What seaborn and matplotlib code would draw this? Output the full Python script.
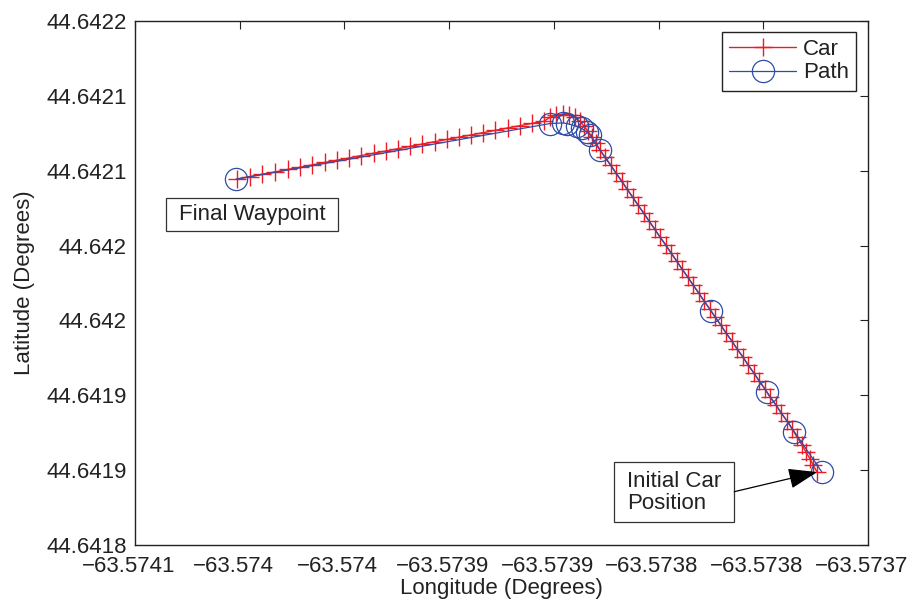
import pandas as pd
import seaborn as sns
import matplotlib.pyplot as plt
from matplotlib.patches import Rectangle
from matplotlib.transforms import ScaledTranslation

# Car trajectory (initial position first)
car_lon = [
    -63.5737543, -63.5737562, -63.5737576, -63.5737596, -63.5737615, -63.5737639,
    -63.5737662, -63.5737686, -63.5737715, -63.5737739, -63.5737768, -63.5737791,
    -63.5737820, -63.5737844, -63.5737873, -63.5737896, -63.5737925, -63.5737949,
    -63.5737978, -63.5738002, -63.5738030, -63.5738054, -63.5738083, -63.5738107,
    -63.5738135, -63.5738159, -63.5738188, -63.5738212, -63.5738240, -63.5738264,
    -63.5738293, -63.5738317, -63.5738345, -63.5738369, -63.5738398, -63.5738422,
    -63.5738450, -63.5738474, -63.5738503, -63.5738527, -63.5738556, -63.5738579,
    -63.5738599, -63.5738618, -63.5738637, -63.5738656, -63.5738675, -63.5738699,
    -63.5738727, -63.5738756, -63.5738790, -63.5738818,
    -63.5738847, -63.5738904, -63.5738961, -63.5739019, -63.5739081, -63.5739138,
    -63.5739195, -63.5739253, -63.5739310, -63.5739367, -63.5739429, -63.5739487,
    -63.5739544, -63.5739601, -63.5739659, -63.5739721, -63.5739778, -63.5739835,
    -63.5739893, -63.5739955, -63.5740012, -63.5740069, -63.5740131, -63.5740194,
    -63.5740251, -63.5740313,
]
car_lat = [
    44.6418787, 44.6418834, 44.6418874, 44.6418921, 44.6418968, 44.6419021,
    44.6419074, 44.6419128, 44.6419181, 44.6419235, 44.6419288, 44.6419341,
    44.6419395, 44.6419448, 44.6419502, 44.6419555, 44.6419608, 44.6419662,
    44.6419715, 44.6419769, 44.6419822, 44.6419875, 44.6419929, 44.6419982,
    44.6420036, 44.6420089, 44.6420142, 44.6420196, 44.6420249, 44.6420303,
    44.6420356, 44.6420409, 44.6420463, 44.6420516, 44.6420570, 44.6420623,
    44.6420676, 44.6420730, 44.6420783, 44.6420837, 44.6420890, 44.6420937,
    44.6420984, 44.6421024, 44.6421064, 44.6421097, 44.6421130, 44.6421157,
    44.6421171, 44.6421177, 44.6421171, 44.6421157,
    44.6421130, 44.6421116, 44.6421101, 44.6421086, 44.6421069, 44.6421054,
    44.6421039, 44.6421024, 44.6421009, 44.6420994, 44.6420978, 44.6420962,
    44.6420947, 44.6420932, 44.6420917, 44.6420901, 44.6420885, 44.6420870,
    44.6420855, 44.6420839, 44.6420823, 44.6420809, 44.6420792, 44.6420776,
    44.6420761, 44.6420745,
]

# Planned path waypoints
path_lon = [-63.5737521, -63.5737651, -63.5737783, -63.5738049, -63.5738579,
            -63.5738627, -63.5738643, -63.5738667, -63.5738690, -63.5738738,
            -63.5738756, -63.5738818, -63.5740318]
path_lat = [44.6418789, 44.6419056, 44.6419323, 44.6419862, 44.6420937,
            44.6421037, 44.6421059, 44.6421082, 44.6421097, 44.6421115,
            44.6421119, 44.6421115, 44.6420743]

x_ticks = [-63.57408, -63.57403, -63.57398, -63.57393, -63.57388, -63.57383, -63.57378, -63.57373]
x_labels = ['\u221263.5741', '\u221263.574', '\u221263.574', '\u221263.5739',
            '\u221263.5739', '\u221263.5738', '\u221263.5738', '\u221263.5737']
y_ticks = [44.64183, 44.64188, 44.64193, 44.64198, 44.64203, 44.64208, 44.64213, 44.64218]
y_labels = ['44.6418', '44.6419', '44.6419', '44.642', '44.642', '44.6421', '44.6421', '44.6422']

RED = '#ec1c24'
BLUE = '#2e4da6'
INK = '#222222'
FS = 16

sns.set_theme(style='white')
plt.rcParams['font.family'] = ['Liberation Sans', 'DejaVu Sans']

car = pd.DataFrame({'lon': car_lon, 'lat': car_lat})
path = pd.DataFrame({'lon': path_lon, 'lat': path_lat})

fig = plt.figure(figsize=(9.12, 6.01), dpi=100)
ax = fig.add_axes([0.148, 0.0932, 0.8037, 0.8719])

sns.lineplot(data=car, x='lon', y='lat', sort=False, estimator=None, ax=ax,
             color=RED, lw=1.0, marker='+', markersize=13, markeredgewidth=1.0,
             markeredgecolor=RED, label='Car')
sns.lineplot(data=path, x='lon', y='lat', sort=False, estimator=None, ax=ax,
             color=BLUE, lw=0.9, marker='o', markersize=16, markeredgewidth=0.9,
             markerfacecolor='none', markeredgecolor=BLUE, label='Path')

ax.set_xlim(x_ticks[0], x_ticks[-1])
ax.set_ylim(y_ticks[0], y_ticks[-1])
ax.set_xticks(x_ticks)
ax.set_xticklabels(x_labels)
ax.set_yticks(y_ticks)
ax.set_yticklabels(y_labels)
ax.tick_params(direction='in', length=6, width=0.8, top=True, right=True,
               labelsize=FS, color=INK, labelcolor=INK)
ax.tick_params(axis='x', pad=8)
ax.tick_params(axis='y', pad=6)
# MATLAB-style: x tick labels sit a little left of their ticks
shift = ScaledTranslation(-0.065, 0, fig.dpi_scale_trans)
for lab in ax.get_xticklabels():
    lab.set_transform(lab.get_transform() + shift)
for sp in ax.spines.values():
    sp.set_visible(True)
    sp.set_color(INK)
    sp.set_linewidth(1.0)

ax.set_xlabel('Longitude (Degrees)', fontsize=FS, color=INK, labelpad=1)
ax.set_ylabel('Latitude (Degrees)', fontsize=FS, color=INK, labelpad=8)

leg = ax.legend(loc='upper right', bbox_to_anchor=(0.9836, 0.9796), borderaxespad=0,
                fontsize=FS, frameon=True, fancybox=False, framealpha=1,
                edgecolor=INK, handlelength=3.0, handletextpad=0.3,
                labelspacing=0.12, borderpad=0.32)
leg.get_frame().set_linewidth(1.0)
for t in leg.get_texts():
    t.set_color(INK)

# text boxes
ax.add_patch(Rectangle((0.0419, 0.5992), 0.2355, 0.0636, transform=ax.transAxes,
                       facecolor='white', edgecolor='#333333', lw=0.9, zorder=5))
ax.text(0.1596, 0.631, 'Final Waypoint', transform=ax.transAxes, ha='center',
        va='center', fontsize=FS, color=INK, zorder=6)

ax.add_patch(Rectangle((0.6542, 0.0445), 0.1637, 0.1133, transform=ax.transAxes,
                       facecolor='white', edgecolor='#333333', lw=0.9, zorder=5))
ax.text(0.6712, 0.0996, 'Initial Car\nPosition', transform=ax.transAxes, ha='left',
        va='center', fontsize=FS, color=INK, linespacing=1.05, zorder=6)
ax.annotate('', xy=(car_lon[0], car_lat[0]), xycoords='data',
            xytext=(0.8176, 0.1017), textcoords='axes fraction',
            arrowprops=dict(arrowstyle='-|>,head_length=0.9,head_width=0.32',
                            color='black', lw=0.9, mutation_scale=20,
                            shrinkA=0, shrinkB=0), zorder=7)

fig.savefig('out.png', dpi=100)
